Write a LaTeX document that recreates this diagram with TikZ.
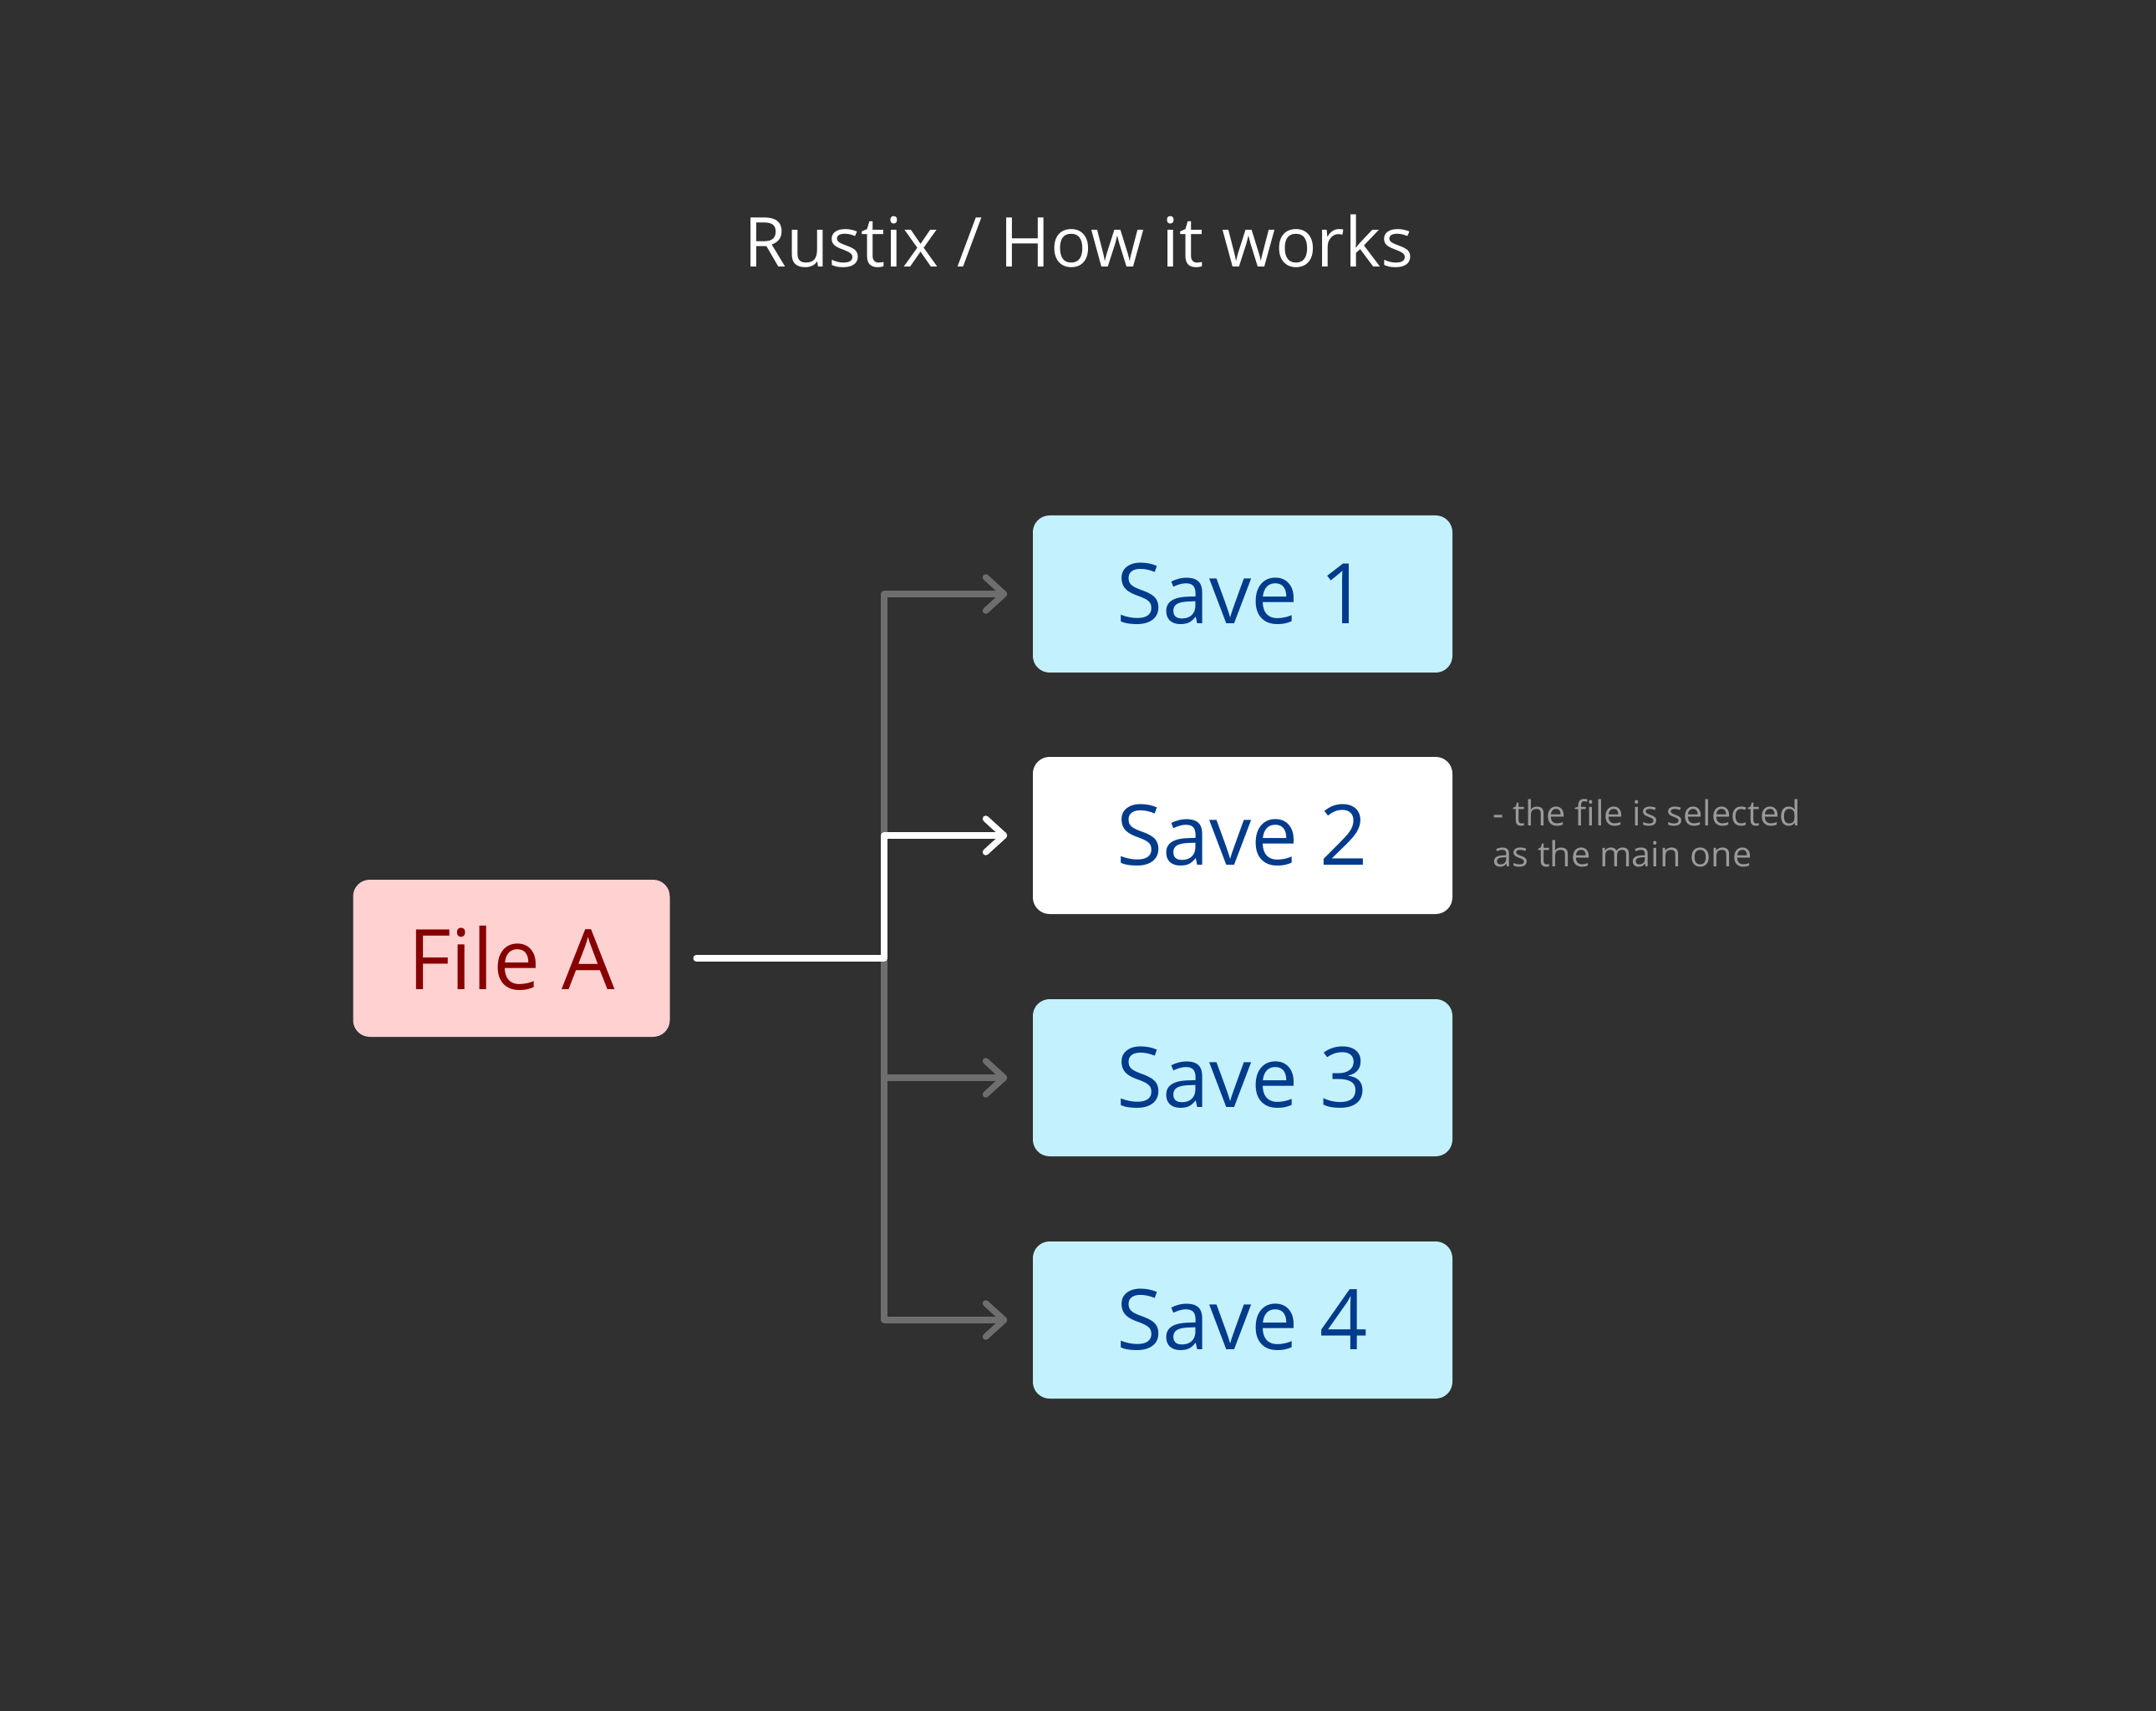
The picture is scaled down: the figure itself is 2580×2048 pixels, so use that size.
\documentclass[tikz,border=0pt]{standalone}
\usepackage{fontspec}
\setmainfont{Open Sans}
\usetikzlibrary{arrows.meta,positioning}
\definecolor{bgdark}{HTML}{303030}
\definecolor{savecyan}{HTML}{C4F1FE}
\definecolor{saveblue}{HTML}{003B8C}
\definecolor{filepink}{HTML}{FFD1D1}
\definecolor{filered}{HTML}{870000}
\definecolor{linegray}{HTML}{6E6E6E}
\definecolor{notegray}{HTML}{9A9A9A}
\tikzset{
  box/.style={rounded corners=2mm, inner sep=0pt, minimum height=18.8mm,
    font=\fontsize{28.5}{30}\selectfont},
  savebox/.style={box, minimum width=50.2mm, fill=savecyan, text=saveblue},
  filebox/.style={box, minimum width=37.9mm, fill=filepink, text=filered},
  link/.style={line width=0.75mm, line cap=round, line join=round,
    -{Straight Barb[length=2.2mm, width=4mm, round]}, shorten >=3mm},
}
\begin{document}
\begin{tikzpicture}[x=0.1mm,y=-0.1mm]
\fill[bgdark] (0,0) rectangle (2580,2048);
\useasboundingbox (0,0) rectangle (2580,2048);
% title
\node[text=white, font=\fontsize{23.4}{25}\selectfont] (title) at (1291,289) {Rustix / How it works};
% source file and its saves
\node[filebox] (fileA) at (612,1147) {File A};
\node[savebox] (save1) at (1487,711) {Save 1};
\node[savebox, fill=white] (save2) at (1487,1000) {Save 2};
\node[savebox] (save3) at (1487,1290) {Save 3};
\node[savebox] (save4) at (1487,1580) {Save 4};
\node[anchor=base west, align=left, text=notegray,
  font=\fontsize{11.8}{13.7}\selectfont] (note) at (1774,1037)
  {- the file is selected\\as the main one};
\coordinate (fork) at (1058,1147);
% gray branches
\draw[link, linegray] (fork) -- (fork |- save1.west) -- (save1.west);
\draw[link, linegray] (fork) -- (fork |- save4.west) -- (save4.west);
\draw[link, linegray] (fork |- save3.west) -- (save3.west);
% chosen save
\draw[link, white, shorten <=3.1mm] (fileA.east) -- (fork) -- (fork |- save2.west) -- (save2.west);
\end{tikzpicture}
\end{document}
